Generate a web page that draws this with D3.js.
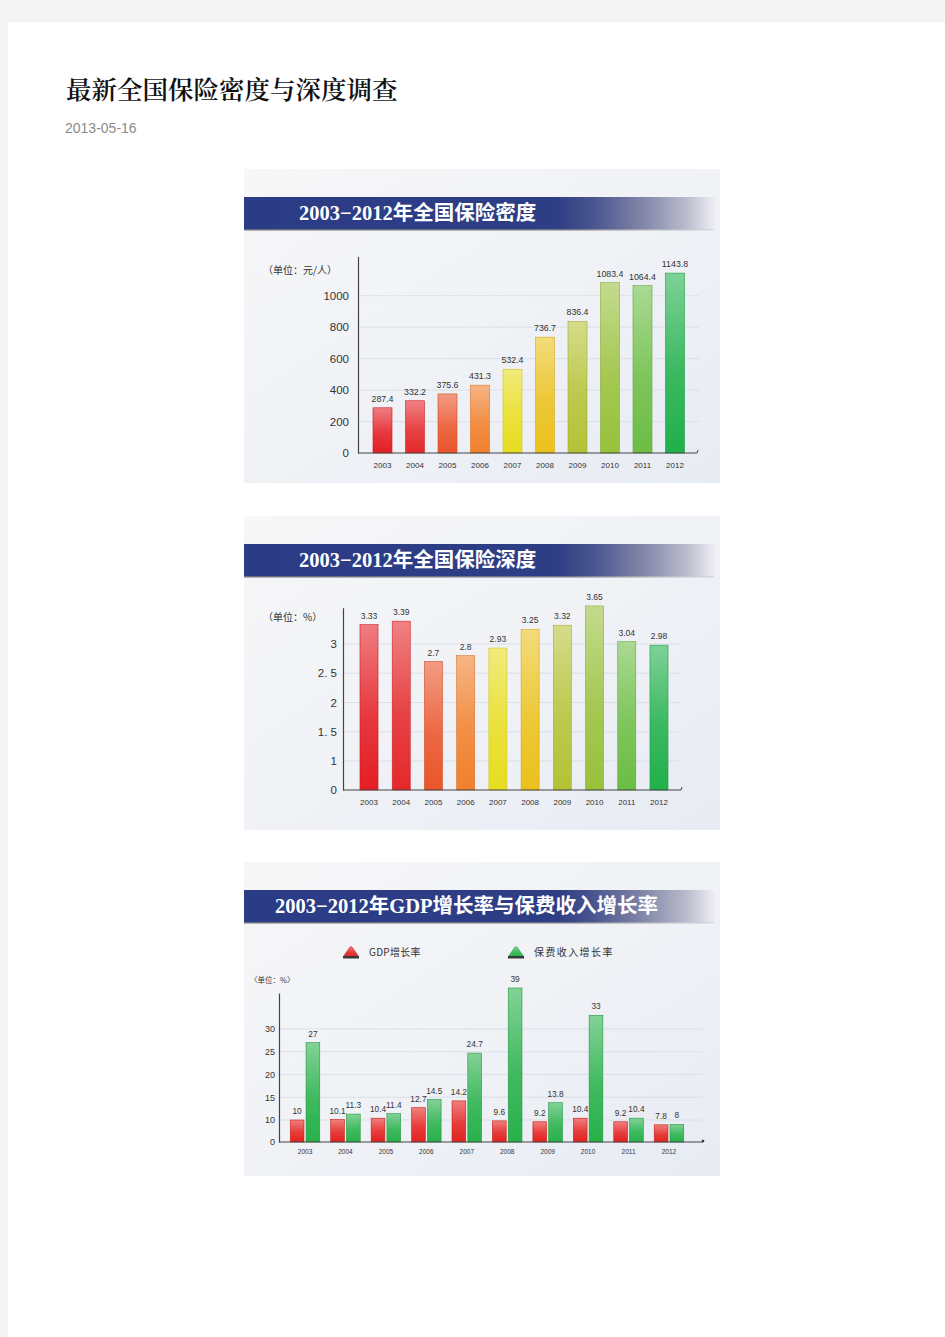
<!DOCTYPE html>
<html><head><meta charset="utf-8">
<script src="https://cdn.jsdelivr.net/npm/d3@7"></script>
<style>body{margin:0;background:#f4f4f4}svg{display:block}</style>
</head><body><svg id="c" width="945" height="1337"></svg>
<script>
// ---------- data ----------
const years = ["2003","2004","2005","2006","2007","2008","2009","2010","2011","2012"];
const densityValues = [287.4, 332.2, 375.6, 431.3, 532.4, 736.7, 836.4, 1083.4, 1064.4, 1143.8];
const densityTicks = [0, 200, 400, 600, 800, 1000];
const depthValues = [3.33, 3.39, 2.7, 2.8, 2.93, 3.25, 3.32, 3.65, 3.04, 2.98];
const depthTicks = [0, 1, 1.5, 2, 2.5, 3];
const depthTickLabels = ["0", "1", "1. 5", "2", "2. 5", "3"];
const gdpGrowth = [10, 10.1, 10.4, 12.7, 14.2, 9.6, 9.2, 10.4, 9.2, 7.8];
const premiumGrowth = [27, 11.3, 11.4, 14.5, 24.7, 39, 13.8, 33, 10.4, 8];
const growthTicks = [0, 10, 15, 20, 25, 30];
const seriesNames = ["GDP增长率", "保费收入增长率"];

// ---------- style ----------
const yearColors = ["#e31e24","#e4282a","#e9552a","#f0802c","#e7dd20","#ebc11c","#b4c236","#98c13b","#6cbd45","#20b04b"];
const seriesColors = ["#e3221f", "#27b14a"];
const sansLatin = "'Liberation Sans', Arial, sans-serif";
const sansCJK = "'Noto Sans CJK SC', sans-serif";

const svg = d3.select("#c");
const defs = svg.append("defs");

svg.append("rect").attr("width", 945).attr("height", 1337).attr("fill", "#f4f4f4");
svg.append("rect").attr("x", 8).attr("y", 22).attr("width", 937).attr("height", 1315).attr("fill", "#fff");

svg.append("text").attr("x", 66).attr("y", 99)
  .attr("font-family", "'Noto Serif CJK SC','Noto Sans CJK SC',serif")
  .attr("font-size", 25.5).attr("font-weight", 600).attr("fill", "#111")
  .text("最新全国保险密度与深度调查");
svg.append("text").attr("x", 65).attr("y", 133)
  .attr("font-family", sansLatin).attr("font-size", 14).attr("fill", "#8a8a8a")
  .text("2013-05-16");

// gradients
const pg = defs.append("linearGradient").attr("id", "panelBg").attr("x1", 0).attr("y1", 0).attr("x2", 1).attr("y2", 1);
pg.append("stop").attr("offset", 0).attr("stop-color", "#f7f7f8");
pg.append("stop").attr("offset", 0.5).attr("stop-color", "#f0f2f6");
pg.append("stop").attr("offset", 1).attr("stop-color", "#e7ebf3");

const bg = defs.append("linearGradient").attr("id", "banner").attr("x1", 0).attr("y1", 0).attr("x2", 1).attr("y2", 0);
[[0,"#2b3c86"],[0.66,"#2e3e85"],[0.74,"#4b568f"],[0.84,"#8185a8"],[0.93,"#b7b9cb"],[0.985,"#e6e7ee"],[1,"#f3f3f6"]]
  .forEach(([o,c]) => bg.append("stop").attr("offset", o).attr("stop-color", c));

const sg = defs.append("linearGradient").attr("id", "shadow").attr("x1", 0).attr("y1", 0).attr("x2", 1).attr("y2", 0);
[[0,"#3c4050"],[0.7,"#4a4e60"],[1,"#d0d2da"]].forEach(([o,c]) => sg.append("stop").attr("offset", o).attr("stop-color", c));

function barGrad(id, color) {
  const g = defs.append("linearGradient").attr("id", id).attr("x1", 0).attr("y1", 0).attr("x2", 0).attr("y2", 1);
  g.append("stop").attr("offset", 0).attr("stop-color", d3.interpolateRgb(color, "#fff")(0.42));
  g.append("stop").attr("offset", 0.55).attr("stop-color", d3.interpolateRgb(color, "#fff")(0.12));
  g.append("stop").attr("offset", 1).attr("stop-color", color);
  return `url(#${id})`;
}
const yearFills = yearColors.map((c, i) => barGrad("yg" + i, c));
const seriesFills = seriesColors.map((c, i) => barGrad("sg" + i, c));

function panel(y0, h, title) {
  const g = svg.append("g");
  g.append("rect").attr("x", 244).attr("y", y0).attr("width", 476).attr("height", h).attr("fill", "url(#panelBg)");
  g.append("rect").attr("x", 244).attr("y", y0 + 28 + 31).attr("width", 470).attr("height", 2.5).attr("fill", "url(#shadow)").attr("opacity", 0.75);
  g.append("rect").attr("x", 244).attr("y", y0 + 28).attr("width", 474).attr("height", 32).attr("fill", "url(#banner)");
  g.append("text").attr("x", title.x).attr("y", y0 + 51)
    .attr("font-family", "'Liberation Serif','DejaVu Serif','Noto Sans CJK SC',serif")
    .attr("font-weight", "bold").attr("font-size", 20.5).attr("fill", "#fff")
    .text(title.text);
  return g;
}

function yAxis(g, y, ax, ticks, labels, fontSize, pad, gridEnd) {
  g.append("g").selectAll("line").data(ticks.filter(t => t > 0)).join("line")
    .attr("x1", ax).attr("x2", gridEnd).attr("y1", d => y(d)).attr("y2", d => y(d))
    .attr("stroke", "#d9dee7").attr("stroke-width", 0.9);
  const a = g.append("g").attr("transform", `translate(${ax},0)`)
    .call(d3.axisLeft(y).tickValues(ticks).tickSize(0).tickPadding(pad)
      .tickFormat((d, i) => labels ? labels[i] : d));
  a.select(".domain").attr("stroke", "#444").attr("stroke-width", 1.2);
  a.selectAll("text").attr("font-family", sansLatin).attr("font-size", fontSize).attr("fill", "#333");
}

function xAxis(g, x, ax, axEnd, yBase, fontSize, dy) {
  g.append("line").attr("x1", ax).attr("x2", axEnd).attr("y1", yBase).attr("y2", yBase)
    .attr("stroke", "#444").attr("stroke-width", 1.2);
  const a = g.append("g").attr("transform", `translate(0,${yBase})`)
    .call(d3.axisBottom(x).tickSize(0).tickPadding(dy));
  a.select(".domain").remove();
  a.selectAll("text").attr("font-family", sansLatin).attr("font-size", fontSize).attr("fill", "#333");
}

// ---------- chart 1: density ----------
{
  const g = panel(169, 314, { x: 299, text: "2003−2012年全国保险密度" });
  const x = d3.scaleBand().domain(years).range([366.25, 691.25]).paddingInner(0.415).paddingOuter(0.2075);
  const y = d3.scaleLinear().domain([0, 1250]).range([453, 256.4]);
  yAxis(g, y, 358, densityTicks, null, 11.5, 9, 699);
  g.append("g").selectAll("rect").data(densityValues).join("rect")
    .attr("x", (d, i) => x(years[i])).attr("width", x.bandwidth())
    .attr("y", d => y(d)).attr("height", d => y(0) - y(d))
    .attr("fill", (d, i) => yearFills[i])
    .attr("stroke", (d, i) => d3.color(yearColors[i]).darker(0.3)).attr("stroke-width", 0.6);
  g.append("g").selectAll("text").data(densityValues).join("text")
    .attr("x", (d, i) => x(years[i]) + x.bandwidth() / 2).attr("y", d => y(d) - 6)
    .attr("text-anchor", "middle").attr("font-family", sansLatin).attr("font-size", 8.8).attr("fill", "#333")
    .text(d => d);
  xAxis(g, x, 358, 697, 453, 8, 9);
  g.append("line").attr("x1", 697).attr("x2", 698).attr("y1", 453).attr("y2", 450).attr("stroke", "#444");
  g.append("text").attr("x", 263).attr("y", 274).attr("font-family", sansCJK).attr("font-size", 10).attr("fill", "#333")
    .text("（单位：元/人）");
}

// ---------- chart 2: depth ----------
{
  const g = panel(516, 314, { x: 299, text: "2003−2012年全国保险深度" });
  const x = d3.scaleBand().domain(years).range([352.9, 675.1]).paddingInner(0.44).paddingOuter(0.22);
  const y = d3.scaleLinear().domain([0, 1, 3.62]).range([790, 761, 607.7]);
  yAxis(g, y, 343, depthTicks, depthTickLabels, 11.5, 6, 681);
  g.append("g").selectAll("rect").data(depthValues).join("rect")
    .attr("x", (d, i) => x(years[i])).attr("width", x.bandwidth())
    .attr("y", d => y(d)).attr("height", d => y(0) - y(d))
    .attr("fill", (d, i) => yearFills[i])
    .attr("stroke", (d, i) => d3.color(yearColors[i]).darker(0.3)).attr("stroke-width", 0.6);
  g.append("g").selectAll("text").data(depthValues).join("text")
    .attr("x", (d, i) => x(years[i]) + x.bandwidth() / 2).attr("y", d => y(d) - 6)
    .attr("text-anchor", "middle").attr("font-family", sansLatin).attr("font-size", 8.5).attr("fill", "#333")
    .text(d => d);
  xAxis(g, x, 343, 681, 790, 8, 9);
  g.append("line").attr("x1", 681).attr("x2", 682).attr("y1", 790).attr("y2", 787).attr("stroke", "#444");
  g.append("text").attr("x", 263).attr("y", 621).attr("font-family", sansCJK).attr("font-size", 10).attr("fill", "#333")
    .text("（单位：%）");
}

// ---------- chart 3: growth ----------
{
  const g = panel(862, 314, { x: 275, text: "2003−2012年GDP增长率与保费收入增长率" });
  const x = d3.scaleBand().domain(years).range([284.8, 689.2]).paddingInner(0.27).paddingOuter(0.135);
  const sub = d3.scaleBand().domain(seriesNames).range([0, x.bandwidth()]).paddingInner(0.13);
  const y = d3.scaleLinear().domain([0, 10, 37.9]).range([1142, 1120, 993]);
  yAxis(g, y, 279, growthTicks, null, 9, 4, 702);
  const series = [gdpGrowth, premiumGrowth];
  series.forEach((vals, s) => {
    g.append("g").selectAll("rect").data(vals).join("rect")
      .attr("x", (d, i) => x(years[i]) + sub(seriesNames[s])).attr("width", sub.bandwidth())
      .attr("y", d => y(d)).attr("height", d => y(0) - y(d))
      .attr("fill", seriesFills[s])
      .attr("stroke", d3.color(seriesColors[s]).darker(0.4)).attr("stroke-width", 0.6);
    g.append("g").selectAll("text").data(vals).join("text")
      .attr("x", (d, i) => x(years[i]) + sub(seriesNames[s]) + sub.bandwidth() / 2).attr("y", d => y(d) - 6)
      .attr("text-anchor", "middle").attr("font-family", sansLatin).attr("font-size", 8.3).attr("fill", "#333")
      .text(d => d);
  });
  xAxis(g, x, 279, 703, 1142, 6.5, 7);
  g.append("circle").attr("cx", 703).attr("cy", 1141).attr("r", 1.3).attr("fill", "#333");
  g.append("text").attr("x", 250).attr("y", 983).attr("font-family", sansCJK).attr("font-size", 7.5).attr("fill", "#333")
    .text("〈单位：%〉");
  // legend
  const legendX = [343, 508];
  seriesNames.forEach((name, s) => {
    const lg = g.append("g").attr("transform", `translate(${legendX[s]},946)`);
    lg.append("path").attr("d", "M0,11 L6.5,1.5 Q8,-0.5 9.5,1.5 L16,11 Z")
      .attr("fill", seriesFills[s]).attr("stroke", d3.color(seriesColors[s]).darker(0.5)).attr("stroke-width", 0.5);
    lg.append("rect").attr("x", 0).attr("y", 10).attr("width", 16).attr("height", 2.5).attr("fill", "#3a3a3a");
    lg.append("text").attr("x", 26).attr("y", 10).attr("font-family", sansCJK).attr("font-size", 10)
      .attr("letter-spacing", s === 1 ? 1.4 : 0.3).attr("fill", "#333").text(name);
  });
}
</script></body></html>
